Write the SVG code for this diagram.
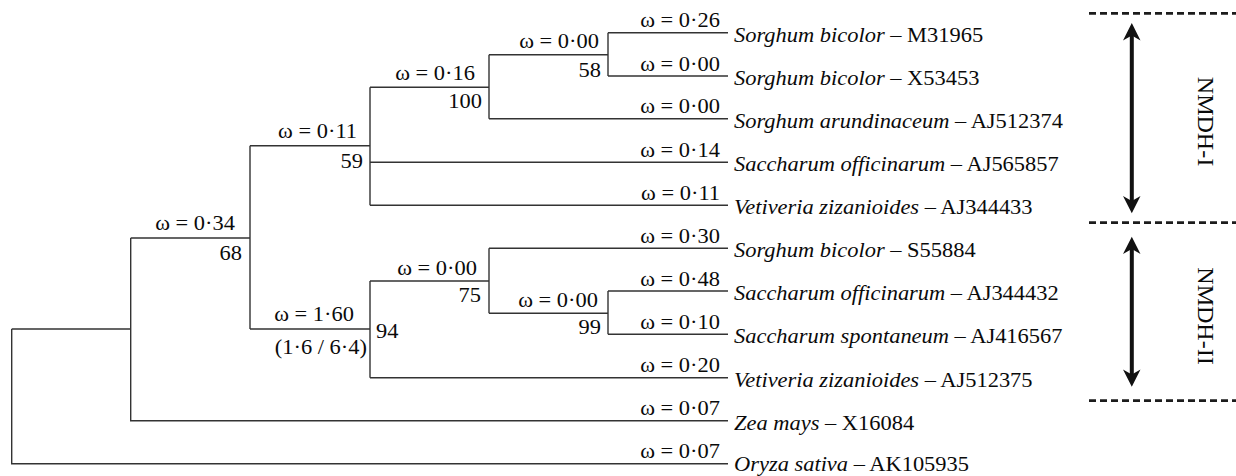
<svg xmlns="http://www.w3.org/2000/svg" width="1236" height="476" viewBox="0 0 1236 476">
<style>
text{font-family:"Liberation Serif","Times New Roman",serif;font-size:22px;fill:#0a0a0a}
.e{text-anchor:end}
.i{font-style:italic}
.rot{font-size:24px;text-anchor:middle}
.br{fill:none;stroke:#333;stroke-width:1.4}
.dash{fill:none;stroke:#1c1c1c;stroke-width:2.7;stroke-dasharray:7 4}
.arr{fill:#111}
</style>
<g id="connectors">
<path class="br" d="M11.7,329 V463.7 H728 M11.7,329 H130.7
M130.7,238 V420.7 H728 M130.7,238 H250
M250,145.7 V329 M250,145.7 H370 M250,329 H370
M370,87.3 V205.3 M370,87.3 H489 M370,162.3 H728 M370,205.3 H728
M489,54.7 V118.7 M489,54.7 H608 M489,118.7 H728
M608,32.7 V76 M608,32.7 H728 M608,76 H728
M370,281 V377.7 M370,281 H489 M370,377.7 H728
M489,248.3 V313.3 M489,248.3 H728 M489,313.3 H608
M608,291 V334.3 M608,291 H728 M608,334.3 H728"/>
</g>
<g id="leaf-M31965"><text class="e" transform="translate(720,27) scale(1.02,1)">ω = 0·26</text><text transform="translate(734,41.5) scale(1.02,1)"><tspan class="i">Sorghum bicolor</tspan> – M31965</text></g>
<g id="leaf-X53453"><text class="e" transform="translate(720,70.5) scale(1.02,1)">ω = 0·00</text><text transform="translate(734,84.8) scale(1.02,1)"><tspan class="i">Sorghum bicolor</tspan> – X53453</text></g>
<g id="leaf-AJ512374"><text class="e" transform="translate(720,113) scale(1.02,1)">ω = 0·00</text><text transform="translate(734,127.5) scale(1.02,1)"><tspan class="i">Sorghum arundinaceum</tspan> – AJ512374</text></g>
<g id="leaf-AJ565857"><text class="e" transform="translate(720,156.6) scale(1.02,1)">ω = 0·14</text><text transform="translate(734,171.1) scale(1.02,1)"><tspan class="i">Saccharum officinarum</tspan> – AJ565857</text></g>
<g id="leaf-AJ344433"><text class="e" transform="translate(720,199.7) scale(1.02,1)">ω = 0·11</text><text transform="translate(734,214.1) scale(1.02,1)"><tspan class="i">Vetiveria zizanioides</tspan> – AJ344433</text></g>
<g id="leaf-S55884"><text class="e" transform="translate(720,242.6) scale(1.02,1)">ω = 0·30</text><text transform="translate(734,257.1) scale(1.02,1)"><tspan class="i">Sorghum bicolor</tspan> – S55884</text></g>
<g id="leaf-AJ344432"><text class="e" transform="translate(720,285.6) scale(1.02,1)">ω = 0·48</text><text transform="translate(734,299.8) scale(1.02,1)"><tspan class="i">Saccharum officinarum</tspan> – AJ344432</text></g>
<g id="leaf-AJ416567"><text class="e" transform="translate(720,328.8) scale(1.02,1)">ω = 0·10</text><text transform="translate(734,343.1) scale(1.02,1)"><tspan class="i">Saccharum spontaneum</tspan> – AJ416567</text></g>
<g id="leaf-AJ512375"><text class="e" transform="translate(720,372.2) scale(1.02,1)">ω = 0·20</text><text transform="translate(734,386.5) scale(1.02,1)"><tspan class="i">Vetiveria zizanioides</tspan> – AJ512375</text></g>
<g id="leaf-X16084"><text class="e" transform="translate(720,415.2) scale(1.02,1)">ω = 0·07</text><text transform="translate(734,429.5) scale(1.02,1)"><tspan class="i">Zea mays</tspan> – X16084</text></g>
<g id="leaf-AK105935"><text class="e" transform="translate(720,458.2) scale(1.02,1)">ω = 0·07</text><text transform="translate(734,471) scale(1.02,1)"><tspan class="i">Oryza sativa</tspan> – AK105935</text></g>
<g id="node-A"><text class="e" transform="translate(599,48) scale(1.02,1)">ω = 0·00</text><text class="e" transform="translate(601,76.5) scale(1.02,1)">58</text></g>
<g id="node-B"><text class="e" transform="translate(475,80) scale(1.02,1)">ω = 0·16</text><text class="e" transform="translate(482,107.5) scale(1.02,1)">100</text></g>
<g id="node-C"><text class="e" transform="translate(357,138) scale(1.02,1)">ω = 0·11</text><text class="e" transform="translate(363,167.5) scale(1.02,1)">59</text></g>
<g id="node-H"><text class="e" transform="translate(235,230) scale(1.02,1)">ω = 0·34</text><text class="e" transform="translate(242,259.5) scale(1.02,1)">68</text></g>
<g id="node-G"><text class="e" transform="translate(354,321) scale(1.02,1)">ω = 1·60</text><text class="e" transform="translate(367,353.5) scale(1.02,1)">(1·6 / 6·4)</text><text transform="translate(376,337.5) scale(1.02,1)">94</text></g>
<g id="node-F"><text class="e" transform="translate(477,275) scale(1.02,1)">ω = 0·00</text><text class="e" transform="translate(481,302) scale(1.02,1)">75</text></g>
<g id="node-E"><text class="e" transform="translate(598,307.3) scale(1.02,1)">ω = 0·00</text><text class="e" transform="translate(601,333.6) scale(1.02,1)">99</text></g>
<g id="group-NMDH-I">
<line class="dash" x1="1089" y1="13.3" x2="1236" y2="13.3"/>
<rect class="arr" x="1129.8" y="33" width="4" height="170"/>
<path class="arr" d="M1131.8,23 L1140.5,40.5 L1131.8,35.5 L1123,40.5 Z M1131.8,213.3 L1140.5,196 L1131.8,201 L1123,196 Z"/>
<text class="rot" transform="translate(1198,121.5) rotate(90)">NMDH-I</text>
</g>
<g id="group-NMDH-II">
<line class="dash" x1="1089" y1="222.7" x2="1236" y2="222.7"/>
<line class="dash" x1="1089" y1="400.7" x2="1236" y2="400.7"/>
<rect class="arr" x="1129.8" y="246" width="4" height="131"/>
<path class="arr" d="M1131.8,236.7 L1140.5,254 L1131.8,249 L1123,254 Z M1131.8,386.7 L1140.5,369.5 L1131.8,374.5 L1123,369.5 Z"/>
<text class="rot" transform="translate(1198,316) rotate(90)">NMDH-II</text>
</g>
</svg>
